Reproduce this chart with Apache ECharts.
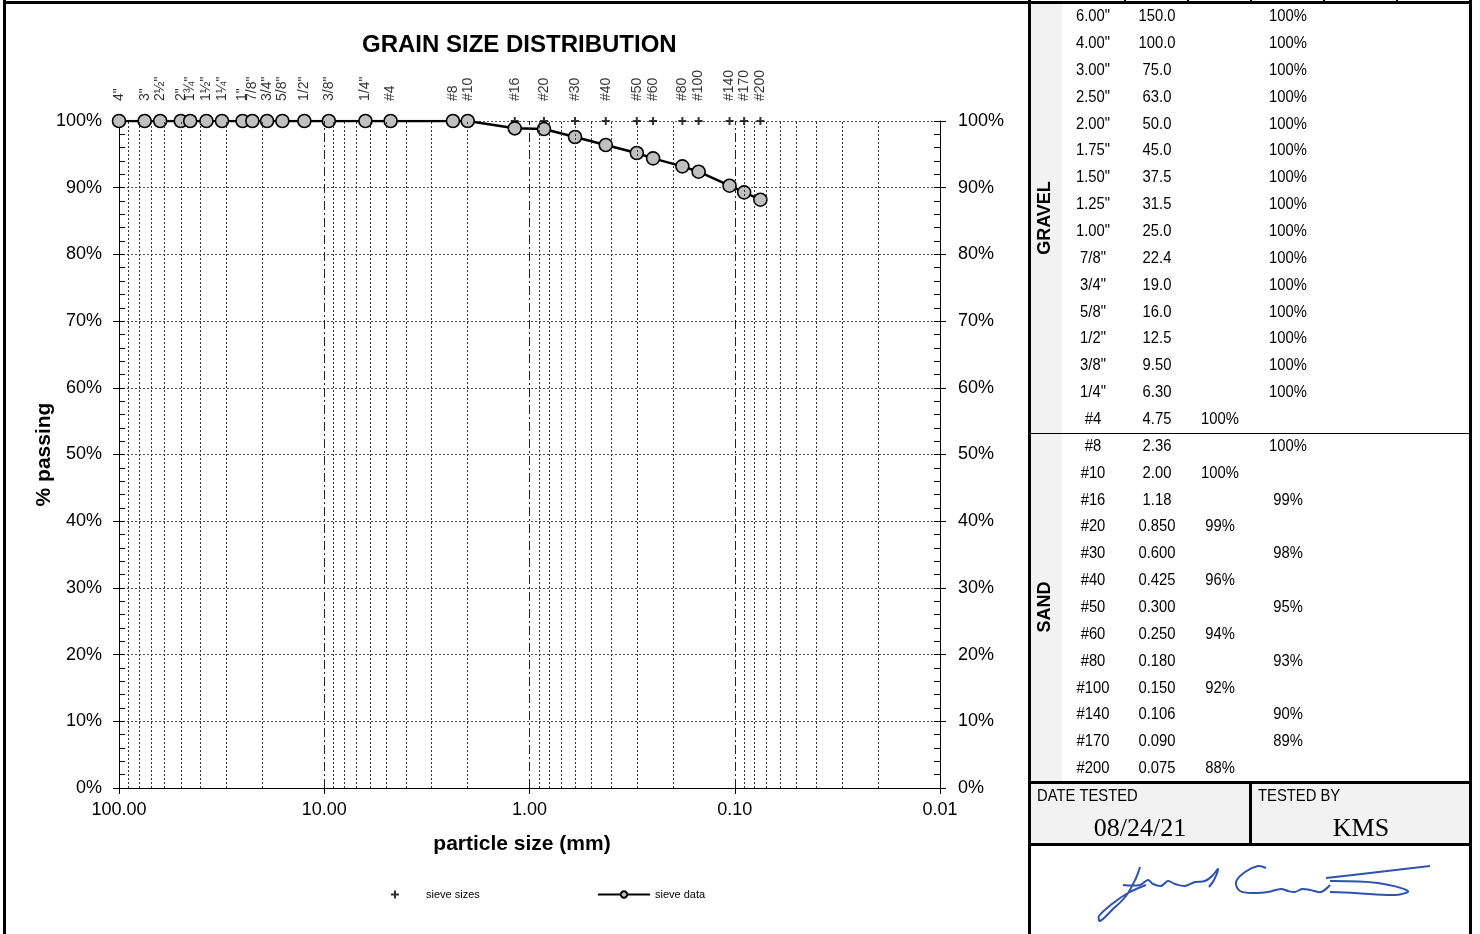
<!DOCTYPE html>
<html><head><meta charset="utf-8">
<script src="https://cdn.jsdelivr.net/npm/echarts@6/dist/echarts.min.js"></script>
<style>html,body{margin:0;padding:0;background:#fff}#c{width:1480px;height:934px}</style>
</head><body><div id="c"></div>
<script>
// ---------- DATA ----------
const tableNames = ['6.00"','4.00"','3.00"','2.50"','2.00"','1.75"','1.50"','1.25"','1.00"','7/8"','3/4"','5/8"','1/2"','3/8"','1/4"','#4','#8','#10','#16','#20','#30','#40','#50','#60','#80','#100','#140','#170','#200'];
const chartLabels = ['6"','4"','3"','2½"','2"','1¾"','1½"','1¼"','1"','7/8"','3/4"','5/8"','1/2"','3/8"','1/4"','#4','#8','#10','#16','#20','#30','#40','#50','#60','#80','#100','#140','#170','#200'];
const sieveMm = [150,100,75,63,50,45,37.5,31.5,25,22.4,19,16,12.5,9.5,6.3,4.75,2.36,2.0,1.18,0.85,0.6,0.425,0.3,0.25,0.18,0.15,0.106,0.09,0.075];
const percentPassing = [100,100,100,100,100,100,100,100,100,100,100,100,100,100,100,100,100,100,98.9,98.8,97.6,96.4,95.2,94.4,93.2,92.4,90.3,89.3,88.2];
const primarySieves = ['#4','#10','#20','#40','#60','#100','#200'];
const sieveSizeLevel = 100;
const dateTested = '08/24/21';
const testedBy = 'KMS';

// ---------- HELPERS ----------
const SANS = "'Liberation Sans', Arial, sans-serif";
const SERIF = "'Liberation Serif', 'Times New Roman', serif";

function mmText(v){
  if (v >= 10) return v.toFixed(1);
  if (v >= 1) return v.toFixed(2);
  return v.toFixed(3);
}

// log grid positions (within 0.01 .. 100)
const minorX = [], decadeX = [10, 1, 0.1];
[10, 1, 0.1, 0.01].forEach(d => { for (let m = 2; m <= 9; m++) minorX.push(+(m * d).toPrecision(3)); });

const inRange = sieveMm.map((v, i) => i).filter(i => sieveMm[i] <= 100);

const graphics = [];
function rect(x, y, w, h, fill, z){ graphics.push({type:'rect', silent:true, z: z || 0, shape:{x, y, width:w, height:h}, style:{fill}}); }
function txt(x, y, text, o){ o = o || {}; graphics.push({type:'text', silent:true, x, y, rotation:o.rotation || 0,
  scaleX: o.scaleX || 0.87, z:5,
  style:Object.assign({text, fill:'#000', fontFamily:SANS, fontSize:17, align:'center', verticalAlign:'middle'}, o.style)}); }

// frame
rect(3, 0, 3, 934, '#000', 10);
rect(3, 1, 1469, 3, '#000', 10);
rect(1028, 0, 3, 934, '#000', 10);
rect(1469, 0, 3, 934, '#000', 10);
[1125, 1188, 1251, 1324, 1397].forEach(x => rect(x - 1, 0, 2, 4, '#000', 10));
// gray category column
rect(1031, 4, 31, 777, '#f2f2f2', 0);
// gravel / sand separator
rect(1031, 433, 438, 1, '#000', 10);
// bottom boxes
rect(1031, 781, 438, 3, '#000', 10);
rect(1031, 784, 218, 59, '#f2f2f2', 0);
rect(1252, 784, 217, 59, '#f2f2f2', 0);
rect(1249, 781, 3, 65, '#000', 10);
rect(1031, 843, 438, 3, '#000', 10);

// table rows
const rowY0 = 16.5, rowStep = 26.857;
tableNames.forEach((n, i) => {
  const y = rowY0 + i * rowStep;
  txt(1093, y, n);
  txt(1157, y, mmText(sieveMm[i]));
  const pct = Math.round(percentPassing[i]) + '%';
  txt(primarySieves.indexOf(n) >= 0 ? 1220 : 1288, y, pct);
});
txt(1045, 218, 'GRAVEL', {rotation: Math.PI/2, scaleX:1, style:{fontWeight:'bold', fontSize:18}});
txt(1045, 607, 'SAND', {rotation: Math.PI/2, scaleX:1, style:{fontWeight:'bold', fontSize:18}});
txt(1037, 796, 'DATE TESTED', {style:{align:'left'}});
txt(1258, 796, 'TESTED BY', {style:{align:'left'}});
txt(1140, 829, dateTested, {scaleX:1, style:{fontFamily:SERIF, fontSize:26}});
txt(1361, 829, testedBy, {scaleX:1, style:{fontFamily:SERIF, fontSize:26}});

// signature (drawn scribble)
const sig = [
  [[1140,867],[1136,878],[1126,896],[1112,910],[1100,921],[1099,916],[1112,904],[1128,893],[1146,885]],
  [[1123,885],[1140,885],[1148,880],[1153,884],[1161,886],[1168,881],[1175,884],[1185,886],[1195,882],[1205,881],[1213,875],[1218,869],[1214,880],[1209,887]],
  [[1266,868],[1258,866],[1245,872],[1236,882],[1240,891],[1255,893],[1268,892],[1281,889],[1288,891],[1295,892],[1302,889],[1310,890],[1321,892],[1330,885]],
  [[1326,878],[1370,873],[1430,866]],
  [[1330,881],[1378,883],[1408,891],[1396,895],[1355,893],[1330,892]]
];
sig.forEach(p => graphics.push({type:'polyline', silent:true, z:6, shape:{points:p, smooth:0.35},
  style:{stroke:'#2d52b0', lineWidth:2, fill:null}}));

// ---------- CHART ----------
const chart = echarts.init(document.getElementById('c'), null, {renderer:'canvas'});
const yBase = {type:'value', min:0, max:100, interval:10};
const dotted = {type:[2,2], color:'#555', width:1};
const option = {
  animation:false,
  backgroundColor:'#fff',
  title:[{text:'GRAIN SIZE DISTRIBUTION', left:357, top:28,
    textStyle:{fontFamily:SANS, fontSize:24, fontWeight:'bold', color:'#000'}}],
  legend:[
    {data:['sieve sizes'], left:391, top:889, padding:0, itemWidth:8, itemHeight:8, selectedMode:false,
     textStyle:{fontFamily:SANS, fontSize:11, color:'#000', padding:[0,0,0,22]}},
    {data:['sieve data'], left:597, top:889, padding:0, itemWidth:52, itemHeight:8, selectedMode:false,
     textStyle:{fontFamily:SANS, fontSize:11, color:'#000'}}
  ],
  grid:{left:119, top:121, width:821, height:667, containLabel:false},
  xAxis:[{
    type:'log', logBase:10, min:0.01, max:100, inverse:true, position:'bottom',
    axisLine:{show:true, onZero:false, lineStyle:{color:'#000', width:1}},
    axisTick:{show:true, inside:false, length:6, lineStyle:{color:'#000'}},
    minorTick:{show:false}, splitLine:{show:false},
    axisLabel:{formatter:v => Number(v).toFixed(2), fontFamily:SANS, fontSize:18, color:'#000', margin:13},
    name:'particle size (mm)', nameLocation:'middle', nameGap:46,
    nameTextStyle:{fontFamily:SANS, fontSize:21, fontWeight:'bold', color:'#000', padding:[0,15,0,0]}
  }],
  yAxis:[
    Object.assign({}, yBase, {position:'left',
      axisLine:{show:true, lineStyle:{color:'#000'}},
      axisTick:{show:true, inside:true, length:6, lineStyle:{color:'#000'}},
      minorTick:{show:true, splitNumber:5, length:6, lineStyle:{color:'#000'}},
      axisLabel:{formatter:'{value}%', fontFamily:SANS, fontSize:18, color:'#000', margin:17},
      splitLine:{show:true, lineStyle:dotted},
      name:'% passing', nameLocation:'middle', nameGap:64, nameMoveOverlap:false,
      nameTextStyle:{fontFamily:SANS, fontSize:21, fontWeight:'bold', color:'#000'}}),
    Object.assign({}, yBase, {position:'right',
      axisLine:{show:true, lineStyle:{color:'#000'}},
      axisTick:{show:true, inside:true, length:6, lineStyle:{color:'#000'}},
      minorTick:{show:true, splitNumber:5, length:6, lineStyle:{color:'#000'}},
      axisLabel:{formatter:'{value}%', fontFamily:SANS, fontSize:18, color:'#000', margin:18},
      splitLine:{show:false}}),
    Object.assign({}, yBase, {position:'left', axisLine:{show:false}, axisLabel:{show:false}, splitLine:{show:false},
      axisTick:{show:true, inside:false, length:6, lineStyle:{color:'#000'}}}),
    Object.assign({}, yBase, {position:'right', axisLine:{show:false}, axisLabel:{show:false}, splitLine:{show:false},
      axisTick:{show:true, inside:false, length:6, lineStyle:{color:'#000'}}})
  ],
  series:[
    {type:'line', name:'grid', data:[], z:1, silent:true,
     markLine:{silent:true, symbol:['none','none'], label:{show:false}, animation:false,
       data: minorX.map(v => ({xAxis:v, lineStyle:{type:[2,2], color:'#333', width:1}}))
         .concat(decadeX.map(v => ({xAxis:v, lineStyle:{type:[9,3,2,3], color:'#222', width:1}})))}},
    {type:'scatter', name:'sieve sizes', z:2, symbol:'path://M3,0H5V3H8V5H5V8H3V5H0V3H3Z', symbolSize:8,
     itemStyle:{color:'#000'},
     data: inRange.map(i => ({name:chartLabels[i], value:[sieveMm[i], sieveSizeLevel]})),
     label:{show:true, formatter:'{b}', position:'top', distance:16, rotate:90, align:'left', verticalAlign:'middle',
       fontFamily:SANS, fontSize:14, color:'#000'}},
    {type:'line', name:'sieve data', z:3, symbol:'circle', symbolSize:13, showAllSymbol:true,
     itemStyle:{color:'#c0c0c0', borderColor:'#000', borderWidth:1.6},
     lineStyle:{color:'#000', width:2.5},
     data: inRange.map(i => [sieveMm[i], percentPassing[i]])}
  ],
  graphic: graphics
};
chart.setOption(option);
</script></body></html>
